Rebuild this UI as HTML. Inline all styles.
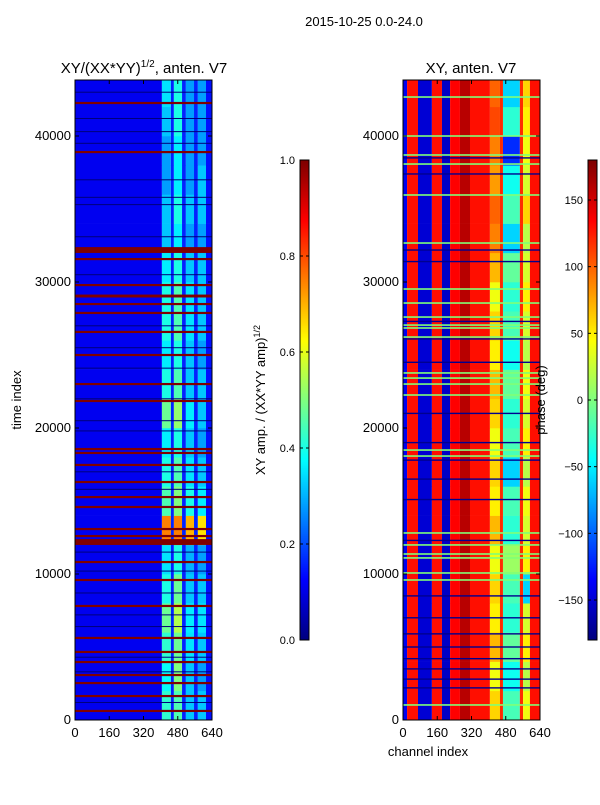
<!DOCTYPE html>
<html><head><meta charset="utf-8">
<style>
body{margin:0;background:#fff;}
svg text{font-family:"Liberation Sans","DejaVu Sans",sans-serif;fill:#000;}
</style></head>
<body>
<svg id="fig" width="600" height="800" xmlns="http://www.w3.org/2000/svg">
<rect width="600" height="800" fill="#fff"/>
<text x="364" y="26" font-size="13" text-anchor="middle">2015-10-25 0.0-24.0</text>
<text x="144" y="73" font-size="15" text-anchor="middle">XY/(XX*YY)<tspan font-size="10" dy="-6">1/2</tspan><tspan dy="6">, anten. V7</tspan></text>
<text x="471" y="73" font-size="15" text-anchor="middle">XY, anten. V7</text>
<g id="ampPlot"></g>
<g id="phPlot"></g>
<g id="axes"></g>
<text transform="translate(21,400) rotate(-90)" font-size="13" text-anchor="middle">time index</text>
<text x="428" y="756" font-size="13" text-anchor="middle">channel index</text>
<text transform="translate(265,400) rotate(-90)" font-size="13" text-anchor="middle">XY amp. / (XX*YY amp)<tspan font-size="9" dy="-5">1/2</tspan></text>
<text transform="translate(545,400) rotate(-90)" font-size="13" text-anchor="middle">phase (deg)</text>
</svg>
<script>
// ---- data ----
const timeBinSize = 2000;
const ampChanEdges = [0,406,448,462,500,518,556,574,612,640];
const ampBackground = 0.11, ampGap = 0.16, ampEdge = 0.14;
// four bright bands per time bin (bottom -> top)
const ampBands = [
[0.42,0.45,0.32,0.32],[0.38,0.5,0.32,0.28],[0.42,0.48,0.35,0.32],[0.48,0.55,0.36,0.35],
[0.4,0.48,0.32,0.32],[0.35,0.4,0.3,0.28],[0.75,0.75,0.7,0.65],[0.45,0.5,0.4,0.36],
[0.4,0.45,0.35,0.32],[0.36,0.4,0.32,0.28],[0.48,0.52,0.36,0.32],[0.4,0.45,0.32,0.32],
[0.36,0.4,0.32,0.28],[0.4,0.45,0.35,0.32],[0.4,0.45,0.35,0.32],[0.36,0.4,0.32,0.32],
[0.32,0.36,0.28,0.28],[0.32,0.4,0.32,0.32],[0.28,0.36,0.28,0.32],[0.28,0.36,0.28,0.28],
[0.32,0.4,0.28,0.28],[0.35,0.4,0.28,0.28]];
const ampFlagTimes = [42260,38900,32190,31570,29790,29040,28490,27880,26580,25000,23010,21850,18560,18290,17470,16300,15270,14590,13080,12600,12190,10820,9590,7810,5620,4660,3970,3080,2530,1640,620];
const ampFlagWidths = [150,150,400,150,150,200,150,150,150,150,150,150,150,150,150,150,150,150,150,150,400,150,150,150,150,150,150,150,150,150,150];
const ampDarkTimes = [43000,41200,40300,39500,37000,35800,35300,33100,30500,27000,25500,24100,22000,20500,19800,17000,15800,11500,10200,8700,7200,6400,4300,3300,1200];
const phChanEdges = [0,19,70,135,182,220,266,313,406,453,467,546,561,593,640];
const phFixed = [-140,130,-150,130,-155,135,160,130];
const phLines = 120, phRightEdge = 130;
// three variable sub-columns per time bin (deg)
const phVar = [
[60,-20,40],[40,-40,20],[70,-10,50],[50,-30,30],[60,-20,-60],[40,10,50],
[70,-30,30],[50,-20,40],[60,-60,20],[40,-20,50],[60,-30,30],[70,-10,40],
[50,-40,20],[60,-20,30],[40,-30,50],[70,-10,30],[90,-60,20],[100,-20,60],
[80,-40,30],[90,-120,40],[110,-30,50],[100,-60,60]];
const phGreenTimes = [42670,40000,38700,38080,35960,32670,29520,28560,27600,27050,26850,26230,23770,23420,23010,22260,18490,18080,12810,11990,11370,11100,10070,9590,1030];
const phBlueTimes = [38500,37400,32190,31400,27300,26100,24500,21000,19000,17800,16500,15100,12300,8500,7000,5900,5000,4200,3500,2800,2200];
const yTicks = [0,10000,20000,30000,40000];
const xTicks = [0,160,320,480,640];
const ampCbTicks = [0,0.2,0.4,0.6,0.8,1.0];
const phCbTicks = [-150,-100,-50,0,50,100,150];

// ---- helpers ----
const NS="http://www.w3.org/2000/svg";
function jet(v){v=Math.max(0,Math.min(1,v));
 const c=x=>Math.round(255*Math.max(0,Math.min(1,x)));
 return `rgb(${c(1.5-Math.abs(4*v-3))},${c(1.5-Math.abs(4*v-2))},${c(1.5-Math.abs(4*v-1))})`;}
const TMAX=43836;
function mk(tag,attrs,parent){const e=document.createElementNS(NS,tag);for(const k in attrs)e.setAttribute(k,attrs[k]);parent.appendChild(e);return e;}
function panel(x0){return {x:c=>x0+c*137/640, y:t=>720-t*640/TMAX};}
const A=panel(75), P=panel(403);
const ampG=document.getElementById('ampPlot'), phG=document.getElementById('phPlot'), axG=document.getElementById('axes');

// amplitude heatmap
ampBands.forEach((row,bi)=>{
 const t0=bi*timeBinSize, t1=Math.min(TMAX,(bi+1)*timeBinSize);
 const vals=[ampBackground,row[0],ampGap,row[1],ampGap,row[2],ampGap,row[3],ampEdge];
 vals.forEach((v,ci)=>{
  const r=mk('rect',{x:A.x(ampChanEdges[ci]),y:A.y(t1),width:A.x(ampChanEdges[ci+1])-A.x(ampChanEdges[ci]),height:A.y(t0)-A.y(t1)+0.3,fill:jet(v)},ampG);
  
  
 });
});
ampDarkTimes.forEach(t=>{
 const r=mk('rect',{x:A.x(0),y:A.y(t)-0.5,width:137,height:1,fill:'#00007a'},ampG);
 
 
});
ampFlagTimes.forEach((t,i)=>{
 const w=ampFlagWidths[i];
 const r=mk('rect',{x:A.x(0),y:A.y(t+w/2),width:137,height:Math.max(1.2,A.y(t-w/2)-A.y(t+w/2)),fill:'#800000'},ampG);
 
 
});
// phase heatmap
const phToV=d=>(d+180)/360;
phVar.forEach((row,bi)=>{
 const t0=bi*timeBinSize, t1=Math.min(TMAX,(bi+1)*timeBinSize);
 const vals=[...phFixed,row[0],phLines,row[1],phLines,row[2],phRightEdge];
 vals.forEach((v,ci)=>{
  const r=mk('rect',{x:P.x(phChanEdges[ci]),y:P.y(t1),width:P.x(phChanEdges[ci+1])-P.x(phChanEdges[ci]),height:P.y(t0)-P.y(t1)+0.3,fill:jet(phToV(v))},phG);
  
  
 });
});
phBlueTimes.forEach(t=>{
 const r=mk('rect',{x:P.x(0),y:P.y(t)-0.7,width:137,height:1.4,fill:'#00008f'},phG);
 
 
});
phGreenTimes.forEach(t=>{
 const r=mk('rect',{x:P.x(0),y:P.y(t)-0.8,width:137,height:1.6,fill:'#80ff77'},phG);
 
 
});

// axes
[[A,75],[P,403]].forEach(([S,x0],pi)=>{
 const f=mk('rect',{x:x0,y:80,width:137,height:640,fill:'none',stroke:'#000','stroke-width':1},axG);
 
 
 yTicks.forEach(t=>{
  mk('line',{x1:x0,x2:x0+4,y1:S.y(t),y2:S.y(t),stroke:'#000'},axG);
  mk('line',{x1:x0+137,x2:x0+133,y1:S.y(t),y2:S.y(t),stroke:'#000'},axG);
  const tx=mk('text',{x:x0-4,y:S.y(t)+4,'font-size':13,'text-anchor':'end'},axG);
  tx.textContent=t;
  
  
 });
 xTicks.forEach(c=>{
  mk('line',{x1:S.x(c),x2:S.x(c),y1:720,y2:716,stroke:'#000'},axG);
  mk('line',{x1:S.x(c),x2:S.x(c),y1:80,y2:84,stroke:'#000'},axG);
  const tx=mk('text',{x:S.x(c),y:737,'font-size':13,'text-anchor':'middle'},axG);
  tx.textContent=c;
  
  
 });
});
// colorbars
function colorbar(x,ticks,lo,hi,name,fmt){
 const g=mk('g',{},axG);
 
 
 for(let i=0;i<240;i++){
  mk('rect',{x:x,y:640-(i+1)*2,width:9,height:2.3,fill:jet(i/239)},g);
 }
 mk('rect',{x:x,y:160,width:9,height:480,fill:'none',stroke:'#000','stroke-width':1},g);
 ticks.forEach(v=>{
  const y=640-(v-lo)/(hi-lo)*480;
  mk('line',{x1:x,x2:x+3,y1:y,y2:y,stroke:'#000'},g);
  mk('line',{x1:x+9,x2:x+6,y1:y,y2:y,stroke:'#000'},g);
  const tx=mk('text',{x:x-5,y:y+4,'font-size':11,'text-anchor':'end'},g);
  tx.textContent=fmt(v);
  
  
 });
}
colorbar(300,ampCbTicks,0,1,'amp-colorbar',v=>v.toFixed(1));
colorbar(588,phCbTicks,-180,180,'phase-colorbar',v=>v<0?'\u2212'+(-v):''+v);
</script>
</body></html>
